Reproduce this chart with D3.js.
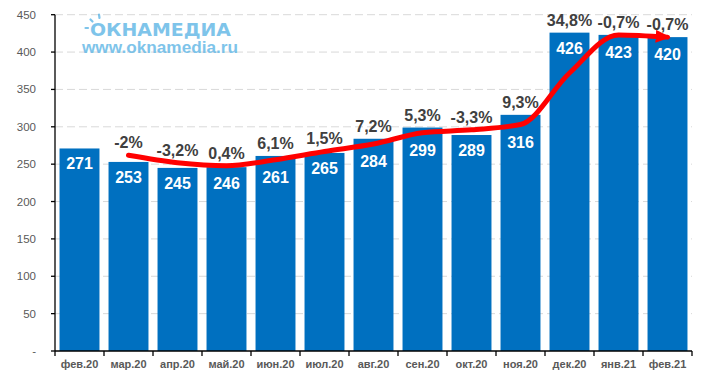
<!DOCTYPE html>
<html><head><meta charset="utf-8">
<script src="https://cdn.jsdelivr.net/npm/d3@7"></script>
<style>body{margin:0;background:#fff}svg{display:block}</style>
</head><body>
<script>
const months = ["фев.20","мар.20","апр.20","май.20","июн.20","июл.20","авг.20","сен.20","окт.20","ноя.20","дек.20","янв.21","фев.21"];
const values = [271,253,245,246,261,265,284,299,289,316,426,423,420];
const pctLabels = [null,"-2%","-3,2%","0,4%","6,1%","1,5%","7,2%","5,3%","-3,3%","9,3%","34,8%","-0,7%","-0,7%"];
const trend = [null,262,252,248,256,267,277,292,296,303,372,423,420];
const yTicks = [0,50,100,150,200,250,300,350,400,450];
const yTickLabels = ["-","50","100","150","200","250","300","350","400","450"];

const W=706,H=378;
const svg=d3.select("body").append("svg").attr("width",W).attr("height",H);
svg.append("rect").attr("width",W).attr("height",H).attr("fill","#fff");

const x=d3.scaleBand().domain(months).range([55,692]).paddingInner(0.185).paddingOuter(0.0925);
const y=d3.scaleLinear().domain([0,450]).range([351,14.7]);
const cx=i=>x(months[i])+x.bandwidth()/2;
const font="'Liberation Sans',Arial,sans-serif";

// grid
svg.append("g").selectAll("line").data(yTicks.filter(d=>d>0)).join("line")
 .attr("x1",55).attr("x2",692).attr("y1",d=>y(d)).attr("y2",d=>y(d))
 .attr("stroke","#d9d9d9").attr("stroke-width",1).attr("stroke-dasharray","8,4");

// logo
const logo=svg.append("g").attr("opacity",0.8);
const lc="#5fb6e6";
logo.append("text").attr("x",90).attr("y",35.5).text("ОКНАМЕДИА")
 .attr("font-family","'DejaVu Sans',sans-serif").attr("font-weight","bold").attr("font-size",17)
 .attr("fill",lc).attr("textLength",141).attr("lengthAdjust","spacingAndGlyphs");
[[99,14.5,99.5,18],[90.5,19.5,92.5,21.5],[85.5,28,88,28]].forEach(r=>{
 logo.append("line").attr("x1",r[0]).attr("y1",r[1]).attr("x2",r[2]).attr("y2",r[3])
  .attr("stroke",lc).attr("stroke-width",2.2).attr("stroke-linecap","round");
});
logo.append("text").attr("x",82).attr("y",53).text("www.oknamedia.ru")
 .attr("font-family",font).attr("font-weight","bold").attr("font-size",16.5)
 .attr("fill",lc).attr("textLength",156).attr("lengthAdjust","spacingAndGlyphs");

// bars
svg.append("g").selectAll("rect").data(values).join("rect")
 .attr("x",(d,i)=>x(months[i])).attr("width",x.bandwidth())
 .attr("y",d=>y(d)).attr("height",d=>y(0)-y(d)).attr("fill","#0070c0");

// value labels (kept below the trend line when it crosses near the bar top)
svg.append("g").selectAll("text").data(values).join("text")
 .attr("x",(d,i)=>cx(i))
 .attr("y",(d,i)=>{
   let c=y(d)+15;
   if(trend[i]!=null && y(trend[i])-y(d)<20) c=Math.max(c,y(trend[i])+17);
   return c+6;
 })
 .attr("text-anchor","middle").attr("font-family",font)
 .attr("font-weight","bold").attr("font-size",16).attr("fill","#fff").text(d=>d);

// axes
const ax=svg.append("g").attr("transform","translate(0,351)");
ax.append("line").attr("x1",55).attr("x2",692).attr("stroke","#000").attr("stroke-width",1.3);
const bounds=d3.range(months.length+1).map(i=>55+i*x.step());
ax.selectAll("line.t").data(bounds).join("line").attr("class","t")
 .attr("x1",d=>d).attr("x2",d=>d).attr("y1",0).attr("y2",5).attr("stroke","#000").attr("stroke-width",1.3);
ax.selectAll("text").data(months).join("text")
 .attr("x",d=>x(d)+x.bandwidth()/2).attr("y",17).attr("text-anchor","middle")
 .attr("font-family",font).attr("font-weight","bold")
 .attr("font-size",11).attr("fill","#595959").text(d=>d);

const ay=svg.append("g");
ay.append("line").attr("x1",55).attr("x2",55).attr("y1",y(450)).attr("y2",351).attr("stroke","#000").attr("stroke-width",1.3);
ay.selectAll("line.t").data(yTicks).join("line").attr("class","t")
 .attr("x1",51).attr("x2",55).attr("y1",d=>y(d)).attr("y2",d=>y(d)).attr("stroke","#000").attr("stroke-width",1.3);
ay.selectAll("text").data(yTicks).join("text")
 .attr("x",36).attr("y",d=>y(d)+4).attr("text-anchor","end")
 .attr("font-family",font).attr("font-size",11.5)
 .attr("fill","#595959").text((d,i)=>yTickLabels[i]);

// trend line
const defs=svg.append("defs");
defs.append("marker").attr("id","arr").attr("markerUnits","userSpaceOnUse")
 .attr("viewBox","0 0 14 12").attr("refX",11).attr("refY",6)
 .attr("markerWidth",15).attr("markerHeight",13).attr("orient","auto")
 .append("path").attr("d","M0,0 L14,6 L0,12 Z").attr("fill","#ff0000");
const pts=trend.map((v,i)=>v==null?null:[cx(i),y(v)]).filter(p=>p);
svg.append("path").attr("d",d3.line().curve(d3.curveMonotoneX)(pts))
 .attr("fill","none").attr("stroke","#ff0000").attr("stroke-width",5)
 .attr("stroke-linejoin","round").attr("stroke-linecap","round").attr("marker-end","url(#arr)");

// pct labels
const pg=svg.append("g");
pctLabels.forEach((lab,i)=>{
 if(lab==null) return;
 const top=Math.min(y(values[i]), y(trend[i]));
 pg.append("text").attr("x",cx(i)).attr("y",top-13+6)
  .attr("text-anchor","middle").attr("font-family",font)
  .attr("font-weight","bold").attr("font-size",16).attr("fill","#404040").text(lab);
});
</script>
</body></html>
